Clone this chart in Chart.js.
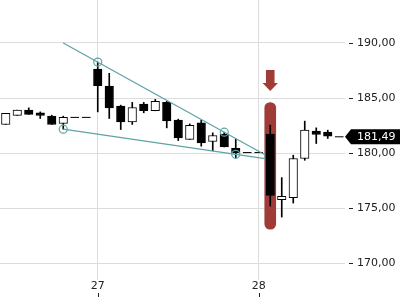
<!DOCTYPE html>
<html><head><meta charset="utf-8">
<style>html,body{margin:0;padding:0;background:#fff;overflow:hidden}</style>
<script src="https://cdn.jsdelivr.net/npm/chart.js@4"></script>
</head><body>
<canvas id="c" width="400" height="300"></canvas>
<script>
// candle data (index 0..29)
const opens  = [182.61,183.43,183.91,183.66,183.36,182.70,183.25,183.25,187.64,186.09,184.27,182.85,184.45,183.85,184.61,183.00,181.25,182.75,181.06,181.73,180.45,180.06,180.06,181.73,175.79,175.97,179.52,182.00,181.91,181.49];
const highs  = [183.61,183.91,184.12,183.75,183.45,183.36,183.25,183.25,188.27,187.25,184.36,184.61,184.61,184.88,184.70,183.09,182.66,183.00,181.85,181.91,181.27,180.06,180.06,182.55,177.79,179.82,182.91,182.30,182.09,181.49];
const lows   = [182.61,183.43,183.52,183.15,182.61,182.18,183.25,183.25,183.75,183.15,182.15,182.61,183.67,183.85,182.30,181.15,181.25,180.64,180.21,180.57,179.57,180.06,180.06,175.21,174.21,175.48,179.36,180.88,181.34,181.49];
const closes = [183.61,183.91,183.52,183.43,182.61,183.25,183.25,183.25,186.12,184.12,182.85,184.15,183.85,184.70,182.94,181.39,182.52,180.94,181.61,180.57,180.03,180.06,180.06,176.18,176.09,179.52,182.09,181.70,181.55,181.49];

const xTickIdx = [8, 22];
const xTickLabels = ['27', '28'];
const yTicks = [170, 175, 180, 185, 190];

const upperLine = [{x: 5, y: 190.0}, {x: 22.54, y: 179.86}];
const lowerLine = [{x: 5, y: 182.18}, {x: 22.54, y: 179.51}];
const touchPoints = [{x: 5, y: 182.18}, {x: 8, y: 188.27}, {x: 19, y: 181.91}, {x: 20, y: 179.90}];

const highlightIdx = 23;
const highlightRange = [173.1, 184.6];
const arrowTop = 187.55;
const arrowTip = 185.64;
const lastPrice = 181.49;

const fmt = v => v.toFixed(2).replace('.', ',');

const bodies = [], wicks = [], flats = [];
for (let i = 0; i < opens.length; i++) {
  if (highs[i] > lows[i]) wicks.push({x: i, y: [lows[i], highs[i]]});
  if (opens[i] !== closes[i]) bodies.push({x: i, y: [opens[i], closes[i]], up: closes[i] > opens[i]});
  else if (highs[i] === lows[i]) flats.push({x: i, y: opens[i]});
}

const TEAL = '#5fa3a8';
const RED = '#9f3c37';
const TXT = '#222';

const noPad = s => { s.paddingTop = 0; s.paddingBottom = 0; s.paddingLeft = 0; s.paddingRight = 0; };

const extras = {
  id: 'extras',
  afterDatasetsDraw(chart) {
    const {ctx, scales: {x, y}} = chart;
    const cx = x.getPixelForValue(highlightIdx);
    const t = y.getPixelForValue(arrowTop), tip = y.getPixelForValue(arrowTip);
    const headH = (tip - t) * 0.38;
    ctx.save();
    ctx.fillStyle = RED;
    ctx.beginPath();
    ctx.moveTo(cx - 4.3, t);
    ctx.lineTo(cx + 4.3, t);
    ctx.lineTo(cx + 4.3, tip - headH);
    ctx.lineTo(cx + 7.7, tip - headH);
    ctx.lineTo(cx, tip);
    ctx.lineTo(cx - 7.7, tip - headH);
    ctx.lineTo(cx - 4.3, tip - headH);
    ctx.closePath();
    ctx.fill();
    ctx.restore();
  },
  afterDraw(chart) {
    const {ctx, chartArea, scales: {x, y}} = chart;
    ctx.save();
    ctx.strokeStyle = TXT;
    ctx.lineWidth = 1;
    ctx.beginPath();
    y.ticks.forEach(tk => {
      const py = Math.round(y.getPixelForValue(tk.value)) + 0.5;
      ctx.moveTo(chartArea.right + 4, py);
      ctx.lineTo(chartArea.right + 8, py);
    });
    x.ticks.forEach(tk => {
      const px = Math.round(x.getPixelForValue(tk.value)) + 0.5;
      ctx.moveTo(px, 293);
      ctx.lineTo(px, 297);
    });
    ctx.stroke();
    const py = y.getPixelForValue(lastPrice);
    const L = chartArea.right, h = 7.5;
    ctx.fillStyle = '#000';
    ctx.beginPath();
    ctx.moveTo(L, py);
    ctx.lineTo(L + 6, py - h);
    ctx.lineTo(400, py - h);
    ctx.lineTo(400, py + h);
    ctx.lineTo(L + 6, py + h);
    ctx.closePath();
    ctx.fill();
    ctx.fillStyle = '#fff';
    ctx.font = '11px "DejaVu Sans"';
    ctx.textBaseline = 'middle';
    ctx.textAlign = 'left';
    ctx.fillText(fmt(lastPrice), L + 12, py + 0.5);
    ctx.restore();
  }
};

new Chart(document.getElementById('c'), {
  type: 'bar',
  data: {
    datasets: [
      {type: 'line', data: touchPoints, showLine: false, pointRadius: 4, pointBorderWidth: 1.2,
       pointBorderColor: TEAL, pointBackgroundColor: 'rgba(0,0,0,0)', order: 0},
      {type: 'line', data: upperLine, borderColor: TEAL, borderWidth: 1.3, pointRadius: 0, order: 1},
      {type: 'line', data: lowerLine, borderColor: TEAL, borderWidth: 1.3, pointRadius: 0, order: 1},
      {type: 'line', data: flats, showLine: false, pointStyle: 'line', pointRadius: 4.3,
       pointBorderWidth: 1, pointBorderColor: '#000', order: 2},
      {data: bodies, grouped: false, barThickness: 8.5, borderWidth: 1, borderColor: '#000', borderSkipped: false,
       backgroundColor: ctx => (ctx.raw && ctx.raw.up) ? '#fff' : '#000', order: 3},
      {data: wicks, grouped: false, barThickness: 1, borderWidth: 0, backgroundColor: '#000', order: 4},
      {data: [{x: highlightIdx, y: highlightRange}], grouped: false, barThickness: 11, borderWidth: 0,
       borderRadius: 6, borderSkipped: false, backgroundColor: RED, order: 5}
    ]
  },
  options: {
    responsive: false,
    animation: false,
    layout: {padding: 0, autoPadding: false},
    plugins: {legend: {display: false}, tooltip: {enabled: false}},
    scales: {
      x: {
        type: 'linear', min: -0.5, max: 29.5, offset: false,
        afterFit: s => { s.height = 20; noPad(s); },
        afterBuildTicks: s => { s.ticks = xTickIdx.map(v => ({value: v})); },
        grid: {color: '#dcdcdc', drawTicks: false, offset: false},
        border: {display: false},
        ticks: {
          padding: 0, color: TXT, font: {family: 'DejaVu Sans', size: 11}, maxRotation: 0, autoSkip: false,
          callback: v => { const k = xTickIdx.indexOf(v); return k >= 0 ? xTickLabels[k] : ''; }
        }
      },
      y: {
        position: 'right', min: 168.5, max: 193.9,
        afterFit: s => { s.width = 55; noPad(s); },
        afterBuildTicks: s => { s.ticks = yTicks.map(v => ({value: v})); },
        grid: {color: '#dcdcdc', drawTicks: false},
        border: {display: false},
        ticks: {padding: 12, color: TXT, font: {family: 'DejaVu Sans', size: 11}, callback: v => fmt(v)}
      }
    }
  },
  plugins: [extras]
});
</script>
</body></html>
